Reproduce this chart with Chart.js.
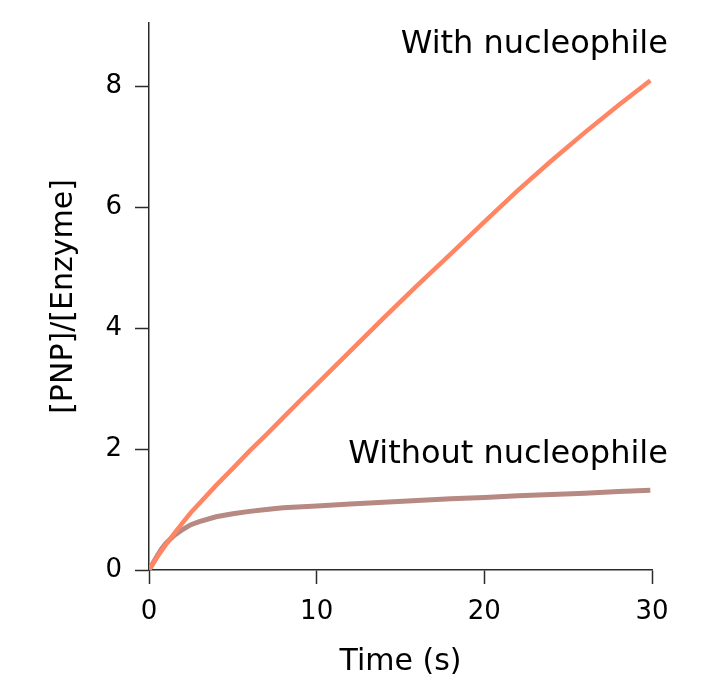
<!DOCTYPE html>
<html>
<head>
<meta charset="utf-8">
<script src="https://cdn.jsdelivr.net/npm/chart.js@4.4.1/dist/chart.umd.min.js"></script>
<style>
  html, body { margin: 0; padding: 0; background: #fff; }
  canvas { display: block; }
</style>
</head>
<body>
<canvas id="chart" width="727" height="696"></canvas>
<script>
// time points (s) and [PNP]/[Enzyme]
const timeWith = [0, 0.5, 1, 1.5, 2, 2.5, 3, 4, 5, 6, 7, 8, 9, 10, 12, 14, 16, 18, 20, 22, 24, 26, 28, 29.9];
const withNucleophile = [0, 0.22, 0.42, 0.6, 0.78, 0.95, 1.1, 1.4, 1.68, 1.97, 2.24, 2.52, 2.8, 3.07, 3.62, 4.17, 4.71, 5.23, 5.76, 6.28, 6.77, 7.24, 7.69, 8.1];

const timeWithout = [0, 0.25, 0.5, 0.75, 1, 1.5, 2, 2.5, 3, 4, 5, 6, 7, 8, 10, 12, 14, 16, 18, 20, 22, 24, 26, 28, 29.9];
const withoutNucleophile = [0, 0.12, 0.24, 0.35, 0.44, 0.57, 0.67, 0.75, 0.8, 0.88, 0.93, 0.97, 1.0, 1.03, 1.06, 1.09, 1.12, 1.15, 1.18, 1.2, 1.23, 1.25, 1.27, 1.3, 1.32];

const xTicks = [0, 10, 20, 30];
const yTicks = [0, 2, 4, 6, 8];

const FONT = '"DejaVu Sans", Verdana, sans-serif';
const AXIS_COLOR = '#2b2b2b';

const toPoints = (xs, ys) => xs.map((x, i) => ({ x, y: ys[i] }));

// text next to each curve, anchored by its right end (data units)
const curveLabels = [
  { text: 'With nucleophile', x: 30.95, y: 8.55 },
  { text: 'Without nucleophile', x: 30.95, y: 1.77 },
];

const curveLabelPlugin = {
  id: 'curveLabels',
  afterDatasetsDraw(chart) {
    const { ctx, scales: { x, y } } = chart;
    ctx.save();
    ctx.font = `32px ${FONT}`;
    ctx.fillStyle = '#000';
    ctx.textAlign = 'right';
    ctx.textBaseline = 'alphabetic';
    curveLabels.forEach((l) => {
      ctx.fillText(l.text, x.getPixelForValue(l.x), y.getPixelForValue(l.y));
    });
    ctx.restore();
  },
};

new Chart(document.getElementById('chart').getContext('2d'), {
  type: 'line',
  data: {
    datasets: [
      {
        label: 'With nucleophile',
        data: toPoints(timeWith, withNucleophile),
        borderColor: 'rgb(255, 133, 99)',
        borderWidth: 4.5,
        pointRadius: 0,
        tension: 0,
      },
      {
        label: 'Without nucleophile',
        data: toPoints(timeWithout, withoutNucleophile),
        borderColor: 'rgb(183, 137, 131)',
        borderWidth: 5,
        pointRadius: 0,
        tension: 0,
      },
    ],
  },
  options: {
    responsive: false,
    animation: false,
    devicePixelRatio: 1,
    layout: { padding: { top: 23, right: 75, left: 0, bottom: 0 } },
    plugins: {
      legend: { display: false },
      tooltip: { enabled: false },
    },
    scales: {
      x: {
        type: 'linear',
        min: 0,
        max: 30,
        afterFit(scale) { scale.height = 126; },
        afterBuildTicks(scale) { scale.ticks = xTicks.map((value) => ({ value })); },
        grid: {
          drawOnChartArea: false,
          drawTicks: true,
          tickLength: 14,
          tickColor: AXIS_COLOR,
          tickWidth: 1.5,
        },
        border: { display: true, color: AXIS_COLOR, width: 1.5 },
        ticks: {
          color: '#000',
          padding: 13,
          font: { family: FONT, size: 26 },
          maxRotation: 0,
        },
        title: {
          display: true,
          text: 'Time (s)',
          color: '#000',
          font: { family: FONT, size: 30 },
          padding: { top: 0, bottom: 16 },
        },
      },
      y: {
        type: 'linear',
        min: 0,
        max: 9.05,
        afterFit(scale) {
          scale.width = 149;
          // the axis runs right up to the top, no room kept for tick labels
          scale.paddingTop = 0;
          scale.paddingBottom = 0;
        },
        afterBuildTicks(scale) { scale.ticks = yTicks.map((value) => ({ value })); },
        grid: {
          drawOnChartArea: false,
          drawTicks: true,
          tickLength: 14,
          tickColor: AXIS_COLOR,
          tickWidth: 1.5,
        },
        border: { display: true, color: AXIS_COLOR, width: 1.5 },
        ticks: {
          color: '#000',
          padding: 13,
          font: { family: FONT, size: 26 },
        },
        title: {
          display: true,
          text: '[PNP]/[Enzyme]',
          color: '#000',
          font: { family: FONT, size: 30 },
          padding: { top: 46, bottom: 0 },
        },
      },
    },
  },
  plugins: [curveLabelPlugin],
});
</script>
</body>
</html>
